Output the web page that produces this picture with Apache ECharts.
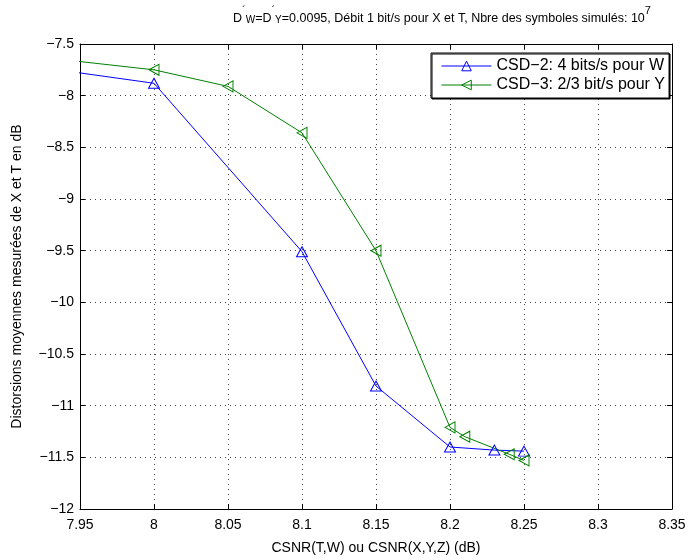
<!DOCTYPE html>
<html><head><meta charset="utf-8">
<script src="https://cdn.jsdelivr.net/npm/echarts@6/dist/echarts.min.js"></script>
<style>html,body{margin:0;padding:0;background:#fff}#c{width:691px;height:560px}</style>
</head><body><div id="c"></div>
<script>
const xTicks = [7.95, 8, 8.05, 8.1, 8.15, 8.2, 8.25, 8.3, 8.35];
const yTicks = [-12, -11.5, -11, -10.5, -10, -9.5, -9, -8.5, -8, -7.5];
const csd2X = [7.9, 8, 8.1, 8.15, 8.2, 8.23, 8.25];
const csd2Y = [-7.68, -7.88, -9.51, -10.81, -11.40, -11.43, -11.44];
const csd3X = [7.9, 8, 8.05, 8.1, 8.15, 8.2, 8.21, 8.24, 8.25];
const csd3Y = [-7.59, -7.75, -7.91, -8.36, -9.50, -11.21, -11.30, -11.47, -11.53];
const seriesNames = ['CSD\u22122: 4 bits/s pour W', 'CSD\u22123: 2/3 bit/s pour Y'];

const font = 'Liberation Sans, Arial, sans-serif';
const fmt = v => {
  let s = String(Math.round(v * 100) / 100);
  return s.replace('-', '\u2212');
};
const pair = (xs, ys) => xs.map((x, i) => [x, ys[i]]);
const chart = echarts.init(document.getElementById('c'), null, {renderer: 'canvas'});
const axisCommon = {
  axisLine: {show: true, lineStyle: {color: '#000', width: 1}},
  axisTick: {show: true, inside: true, length: 5, lineStyle: {color: '#000'}},
};
chart.setOption({
  animation: false,
  backgroundColor: '#fff',
  title: {
    left: 228, top: 0,
    text: '{n|D}{sup|´}{sub|W}{n|=D}{sup|´}{sub|Y}{n|=0.0095, Débit 1 bit/s pour X et T, Nbre des symboles simulés: 10}{sup|7}',
    textStyle: {
      fontWeight: 'normal',
      rich: {
        n: {fontFamily: font, fontSize: 12.5, fontWeight: 'normal', color: '#000', verticalAlign: 'bottom', lineHeight: 20},
        sup: {fontFamily: font, fontSize: 11, fontWeight: 'normal', color: '#000', verticalAlign: 'top', lineHeight: 20, padding: [0, 0, 8, 0]},
        sub: {fontFamily: font, fontSize: 10, fontWeight: 'normal', color: '#000', verticalAlign: 'bottom', lineHeight: 20, padding: [6, 0, 0, 0]}
      }
    }
  },
  grid: {left: 80, right: 19, top: 44, bottom: 48, containLabel: false},
  legend: {
    orient: 'vertical', left: 431, top: 53,
    backgroundColor: '#fff', borderColor: '#000', borderWidth: 1,
    shadowColor: '#000', shadowOffsetX: 1, shadowOffsetY: 1, shadowBlur: 0,
    padding: [5, 4, 5, 10], itemGap: 3, itemWidth: 50, itemHeight: 12,
    itemStyle: {borderWidth: 1},
    lineStyle: {width: 1},
    textStyle: {fontFamily: font, fontSize: 16, color: '#000'},
    data: seriesNames
  },
  xAxis: [
    Object.assign({
      type: 'value', min: 7.95, max: 8.35, interval: 0.05,
      name: 'CSNR(T,W) ou CSNR(X,Y,Z) (dB)', nameLocation: 'middle', nameGap: 32,
      nameTextStyle: {fontFamily: font, fontSize: 14, color: '#000'},
      axisLabel: {fontFamily: font, fontSize: 14, color: '#000', margin: 9, formatter: fmt, showMinLabel: true, showMaxLabel: true},
      splitLine: {show: true, lineStyle: {color: '#444', type: [1, 4], width: 1}}
    }, axisCommon),
    Object.assign({
      type: 'value', min: 7.95, max: 8.35, interval: 0.05, position: 'top',
      axisLabel: {show: false}, splitLine: {show: false}
    }, axisCommon)
  ],
  yAxis: [
    Object.assign({
      type: 'value', min: -12, max: -7.5, interval: 0.5,
      name: 'Distorsions moyennes mesurées de X et T en dB', nameLocation: 'middle', nameGap: 56,
      nameTextStyle: {fontFamily: font, fontSize: 14, color: '#000'},
      axisLabel: {fontFamily: font, fontSize: 14, color: '#000', margin: 6, formatter: fmt},
      splitLine: {show: true, lineStyle: {color: '#444', type: [1, 4], width: 1}}
    }, axisCommon),
    Object.assign({
      type: 'value', min: -12, max: -7.5, interval: 0.5, position: 'right',
      axisLabel: {show: false}, splitLine: {show: false}
    }, axisCommon)
  ],
  series: [
    {
      name: seriesNames[0], type: 'line', data: pair(csd2X, csd2Y), clip: true,
      symbol: 'triangle', symbolSize: [11, 10], showAllSymbol: true,
      lineStyle: {color: '#0000ff', width: 1},
      itemStyle: {color: 'rgba(255,255,255,0)', borderColor: '#0000ff', borderWidth: 1}
    },
    {
      name: seriesNames[1], type: 'line', data: pair(csd3X, csd3Y), clip: true,
      symbol: 'triangle', symbolSize: [11, 10], symbolRotate: 90, showAllSymbol: true,
      lineStyle: {color: '#008000', width: 1},
      itemStyle: {color: 'rgba(255,255,255,0)', borderColor: '#008000', borderWidth: 1}
    }
  ]
});
</script></body></html>
